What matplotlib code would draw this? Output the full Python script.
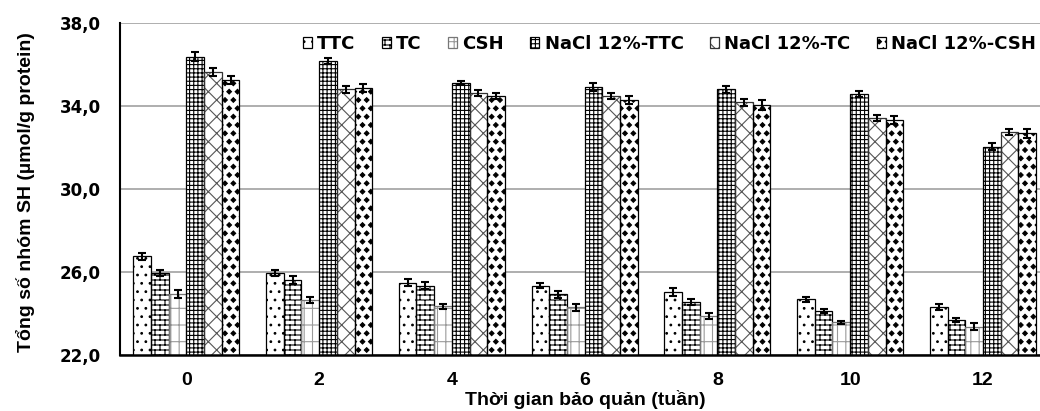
import warnings
warnings.filterwarnings('ignore')
import numpy as np
import matplotlib
matplotlib.use('Agg')
import matplotlib.pyplot as plt
import matplotlib.hatch as mhatch
from matplotlib.path import Path
from matplotlib.patches import Patch
from matplotlib.legend_handler import HandlerTuple

# ---------------- data ----------------
weeks = ['0', '2', '4', '6', '8', '10', '12']
series = ['TTC', 'TC', 'CSH', 'NaCl 12%-TTC', 'NaCl 12%-TC', 'NaCl 12%-CSH']
ttc = [26.75, 25.97, 25.49, 25.33, 25.02, 24.68, 24.30]
tc = [25.94, 25.61, 25.34, 24.92, 24.54, 24.12, 23.69]
csh = [24.95, 24.65, 24.36, 24.30, 23.88, 23.58, 23.37]
nacl_ttc = [36.38, 36.18, 35.12, 34.93, 34.80, 34.59, 32.04]
nacl_tc = [35.65, 34.80, 34.61, 34.50, 34.18, 33.44, 32.73]
nacl_csh = [35.25, 34.88, 34.48, 34.29, 34.05, 33.33, 32.68]
ttc_err = [0.15, 0.15, 0.18, 0.12, 0.20, 0.12, 0.15]
tc_err = [0.15, 0.18, 0.18, 0.15, 0.15, 0.12, 0.08]
csh_err = [0.18, 0.15, 0.12, 0.18, 0.15, 0.08, 0.15]
nacl_ttc_err = [0.22, 0.15, 0.10, 0.20, 0.18, 0.15, 0.18]
nacl_tc_err = [0.20, 0.18, 0.15, 0.15, 0.18, 0.15, 0.15]
nacl_csh_err = [0.20, 0.20, 0.15, 0.20, 0.25, 0.18, 0.20]
yticks = [22, 26, 30, 34, 38]
ytick_labels = ['22,0', '26,0', '30,0', '34,0', '38,0']
xlabel = 'Thời gian bảo quản (tuần)'
ylabel = 'Tổng số nhóm SH (µmol/g protein)'

values = [ttc, tc, csh, nacl_ttc, nacl_tc, nacl_csh]
errors = [ttc_err, tc_err, csh_err, nacl_ttc_err, nacl_tc_err, nacl_csh_err]


# ---------------- custom hatches ----------------
class BrickHatch(mhatch.HatchPatternBase):
    def __init__(self, hatch, density):
        n = hatch.count('b')
        self.rows = n * 20
        self.cols = n * 10
        if self.rows == 0:
            self.num_vertices = 0
        else:
            self.num_vertices = 2 * (self.rows + 1) + 2 * self.rows * self.cols

    def set_vertices_and_codes(self, vertices, codes):
        parts = []
        h = 1.0 / self.rows
        w = 1.0 / self.cols
        for r in range(self.rows + 1):
            y = r * h
            parts.append([[0, y], [1, y]])
        for r in range(self.rows):
            y0 = r * h
            y1 = y0 + h
            off = (w / 2) if r % 2 else 0.0
            for c in range(self.cols):
                xx = c * w + off
                parts.append([[xx, y0], [xx, y1]])
        vertices[:] = np.array(parts, dtype=float).reshape(-1, 2)
        codes[0::2] = Path.MOVETO
        codes[1::2] = Path.LINETO


class DiamondHatch(mhatch.Shapes):
    size = 0.28
    filled = True

    def __init__(self, hatch, density):
        self.num_rows = hatch.count('d') * density
        path = Path.unit_regular_polygon(4)
        self.shape_vertices = path.vertices
        self.shape_codes = path.codes
        super().__init__(hatch, density)


mhatch._hatch_types.extend([BrickHatch, DiamondHatch])

# ---------------- styles ----------------
hatches = ['..', 'b', '||-', '++++', 'xx', 'dd']
hatch_colors = ['black', 'black', '#9a9a9a', 'black', '#555555', 'black']
edge_colors = ['black', 'black', '#777777', 'black', '#333333', 'black']

plt.rcParams['hatch.linewidth'] = 0.8

fig = plt.figure(figsize=(10.4, 4.11), dpi=100)
ax = fig.add_axes([120 / 1040, 56 / 411, 920 / 1040, 332 / 411])

x = np.arange(len(weeks))
width = 0.1333
handles = []
for i, (vals, errs) in enumerate(zip(values, errors)):
    pos = x + (i - 2.5) * width
    ax.bar(pos, vals, width, bottom=0, facecolor='white',
           edgecolor=hatch_colors[i], linewidth=0, hatch=hatches[i], zorder=2)
    ax.bar(pos, vals, width, fill=False, edgecolor=edge_colors[i],
           linewidth=0.9, zorder=2.1)
    ax.errorbar(pos, vals, yerr=errs, fmt='none', ecolor='black',
                elinewidth=1.5, capsize=3, capthick=1.5, zorder=3)
    h1 = Patch(facecolor='white', edgecolor=hatch_colors[i], linewidth=0, hatch=hatches[i])
    h2 = Patch(fill=False, edgecolor=edge_colors[i], linewidth=0.9)
    handles.append((h1, h2))

ax.set_ylim(22, 38)
ax.set_xlim(-0.5, 6.43)
ax.set_yticks(yticks)
ax.set_yticklabels(ytick_labels, fontfamily='DejaVu Sans', fontweight='bold', fontsize=12)
ax.set_xticks(x)
ax.set_xticklabels(weeks, fontfamily='Liberation Sans', fontweight='bold', fontsize=14)
ax.tick_params(axis='y', length=0, pad=14)
ax.tick_params(axis='x', length=0, pad=12)

ax.grid(axis='y', color='#a8a8a8', linewidth=1.3)
ax.set_axisbelow(True)
for s in ['top', 'right']:
    ax.spines[s].set_visible(False)
ax.spines['left'].set_linewidth(1.5)
ax.spines['bottom'].set_linewidth(1.8)

ax.set_xlabel(xlabel, fontfamily='Liberation Sans', fontweight='bold', fontsize=14)
ax.xaxis.set_label_coords(0.506, -0.105)
ax.xaxis.label.set_va('top')
ax.set_ylabel(ylabel, fontfamily='Liberation Sans', fontweight='bold', fontsize=14)
ax.yaxis.set_label_coords(-0.0924, 0.49)

ax.legend(handles, series, handler_map={tuple: HandlerTuple(ndivide=1)},
          loc='center right', bbox_to_anchor=(0.9957, 0.937), ncol=6,
          frameon=False, borderpad=0, borderaxespad=0,
          handlelength=0.5, handleheight=0.5, handletextpad=0.3,
          columnspacing=1.45,
          prop={'family': 'DejaVu Sans', 'weight': 'bold', 'size': 13})

fig.savefig('out.png', dpi=100)
